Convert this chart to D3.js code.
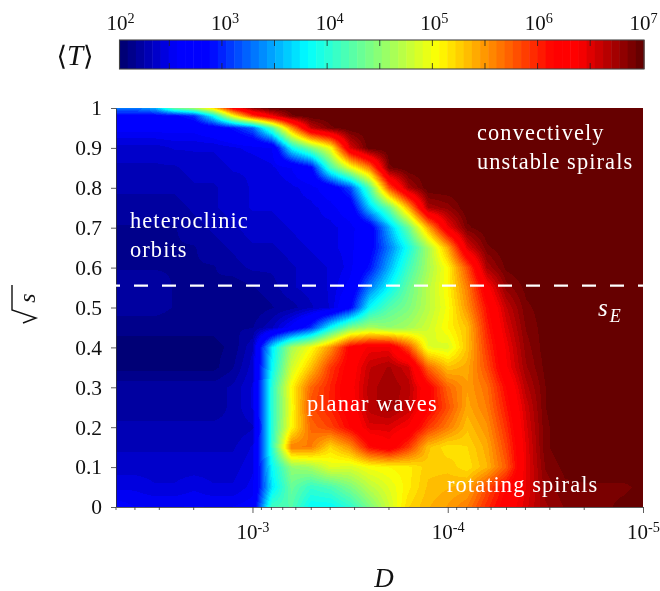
<!DOCTYPE html>
<html>
<head>
<meta charset="utf-8">
<script src="https://cdn.jsdelivr.net/npm/d3@7"></script>
<style>
  body { margin: 0; background: #fff; }
  #wrap { position: relative; width: 660px; height: 591px; }
  canvas, svg { position: absolute; left: 0; top: 0; }
  text { font-family: "Liberation Serif", serif; fill: #111; }
  .note { fill: #fff; font-size: 22.4px; letter-spacing: 1.1px; }
</style>
</head>
<body>
<div id="wrap"><canvas id="map" width="660" height="591"></canvas><svg id="chart" width="660" height="591"></svg></div>
<script>
// log10 of D along the horizontal axis
var logD = [-2.3, -2.4, -2.5, -2.6, -2.7, -2.8, -2.9, -3.0, -3.1, -3.2, -3.3, -3.4, -3.5, -3.6,
            -3.7, -3.8, -3.9, -4.0, -4.1, -4.2, -4.3, -4.4, -4.5, -4.6, -4.7, -4.8, -4.9, -5.0];
var sqrtS = [1, 0.98, 0.95, 0.9, 0.85, 0.8, 0.75, 0.7, 0.65, 0.6, 0.55, 0.5, 0.45,
             0.4, 0.35, 0.3, 0.25, 0.2, 0.15, 0.1, 0.05, 0];
// log10 <T>, one row per sqrtS value
var logT = [
  [3.3,3.3,3.5,4.3,4.6,5.2,6.2,6.8,7,7,7,7,7,7,7,7,7,7,7,7,7,7,7,7,7,7,7,7],
  [2.8,2.8,2.8,2.8,3.0,3.8,5.0,5.9,6.4,6.9,7,7,7,7,7,7,7,7,7,7,7,7,7,7,7,7,7,7],
  [2.6,2.6,2.6,2.6,2.6,2.7,2.9,3.2,4.2,5.5,6.6,6.9,7,7,7,7,7,7,7,7,7,7,7,7,7,7,7,7],
  [2.35,2.35,2.35,2.4,2.4,2.4,2.45,2.5,2.55,3.8,4.4,5.0,6.5,7,7,7,7,7,7,7,7,7,7,7,7,7,7,7],
  [2.3,2.3,2.3,2.3,2.35,2.35,2.4,2.4,2.45,2.55,2.8,4.1,4.9,5.6,6.9,7,7,7,7,7,7,7,7,7,7,7,7,7],
  [2.25,2.25,2.25,2.25,2.3,2.3,2.35,2.4,2.4,2.45,2.5,2.65,3.1,4.2,5.8,6.7,7,7,7,7,7,7,7,7,7,7,7,7],
  [2.2,2.2,2.2,2.2,2.25,2.3,2.35,2.4,2.4,2.45,2.45,2.5,2.65,3.6,4.3,5.4,6.7,6.8,7,7,7,7,7,7,7,7,7,7],
  [2.15,2.15,2.15,2.15,2.2,2.25,2.3,2.35,2.35,2.4,2.45,2.45,2.5,2.7,3.5,4.3,5.4,6.4,6.9,7,7,7,7,7,7,7,7,7],
  [2.15,2.15,2.15,2.15,2.15,2.2,2.25,2.3,2.3,2.35,2.4,2.45,2.5,2.75,3.3,3.9,4.6,5.4,6.5,6.9,7,7,7,7,7,7,7,7],
  [2.15,2.15,2.15,2.15,2.15,2.15,2.2,2.25,2.25,2.3,2.35,2.4,2.5,2.9,3.5,4.1,4.6,5.05,5.8,6.7,6.95,7,7,7,7,7,7,7],
  [2.2,2.2,2.2,2.15,2.15,2.15,2.1,2.15,2.2,2.3,2.35,2.4,2.6,3.3,3.8,4.3,4.7,5.05,5.6,6.3,6.8,6.95,7,7,7,7,7,7],
  [2.2,2.2,2.2,2.15,2.15,2.1,2.1,2.1,2.15,2.2,2.3,2.4,2.8,3.8,4.2,4.4,4.7,5.0,5.5,6.1,6.6,6.9,6.97,7,7,7,7,7],
  [2.1,2.1,2.1,2.1,2.1,2.1,2.15,2.15,2.3,2.6,3.0,3.8,4.4,4.6,4.5,4.6,4.8,5.05,5.3,6.0,6.5,6.85,6.97,7,7,7,7,7],
  [2.05,2.05,2.05,2.05,2.05,2.05,2.1,2.3,3.7,4.6,5.0,5.5,6.2,6.4,6.4,5.8,4.9,4.85,5.3,5.9,6.4,6.8,6.97,7,7,7,7,7],
  [2.05,2.05,2.05,2.05,2.05,2.05,2.15,2.35,3.8,4.8,5.3,5.9,6.25,6.6,6.7,6.55,5.7,5.3,5.4,5.8,6.35,6.75,6.95,7,7,7,7,7],
  [2.2,2.2,2.2,2.2,2.2,2.2,2.25,2.4,4.0,5.05,5.7,6.0,6.3,6.65,6.75,6.65,6.2,5.7,5.45,5.65,6.15,6.65,6.92,7,7,7,7,7],
  [2.2,2.2,2.2,2.2,2.2,2.2,2.25,2.4,4.0,5.0,5.8,6.0,6.25,6.65,6.75,6.6,6.2,5.8,5.4,5.6,6.05,6.55,6.92,7,7,7,7,7],
  [2.25,2.25,2.25,2.25,2.25,2.25,2.25,2.3,4.0,5.05,5.7,5.85,6.15,6.5,6.5,6.35,5.9,5.6,5.3,5.5,5.95,6.5,6.9,7,7,7,7,7],
  [2.3,2.3,2.3,2.3,2.3,2.3,2.3,2.4,4.0,5.6,5.6,5.2,5.5,6.1,6.3,5.9,5.3,5.15,5.2,5.4,5.85,6.45,6.9,7,7,7,7,7],
  [2.35,2.35,2.35,2.35,2.35,2.35,2.35,2.45,3.8,4.5,4.6,4.9,4.85,5.0,5.05,5.1,5.25,5.25,5.15,5.35,5.75,6.45,6.85,6.95,7,7,7,7],
  [2.45,2.45,2.4,2.4,2.45,2.4,2.4,2.5,3.7,4.3,4.05,4.15,4.4,4.7,4.9,5.1,5.3,5.35,5.4,5.8,6.15,6.45,6.8,6.9,6.9,6.9,6.9,6.95],
  [2.6,2.55,2.55,2.55,2.55,2.55,2.55,2.6,4.1,4.2,3.8,3.8,4.0,4.4,4.8,5.2,5.35,5.45,5.6,5.95,6.25,6.5,6.75,6.85,6.85,6.9,6.95,7]
];
var xTicks = [1e-3, 1e-4, 1e-5];
var xMinor = [5e-3, 4e-3, 3e-3, 2e-3, 9e-4, 8e-4, 7e-4, 6e-4, 5e-4, 4e-4, 3e-4, 2e-4,
              9e-5, 8e-5, 7e-5, 6e-5, 5e-5, 4e-5, 3e-5, 2e-5];
var yTicks = [0, 0.1, 0.2, 0.3, 0.4, 0.5, 0.6, 0.7, 0.8, 0.9, 1];
var barLabels = [1e2, 1e3, 1e4, 1e5, 1e6, 1e7];
var barTicks = [10**2.5, 1e3, 10**3.5, 1e4, 10**4.5, 1e5, 10**5.5, 1e6, 10**6.5];
var sE = 0.555;
var noteText = ['heteroclinic', 'orbits', 'convectively', 'unstable spirals', 'planar waves', 'rotating spirals'];
// colour map stops
var mapStops = [0, 0.11, 0.17, 0.358, 0.607, 0.826, 0.874, 1];
var mapColors = ['#00006b', '#0000ff', '#0000ff', '#00ffff', '#ffff00', '#ff0000', '#ff0000', '#5c0000'];

var x = d3.scaleLog().domain([5e-3, 1e-5]).range([116, 643]);
var y = d3.scaleLinear().domain([0, 1]).range([507, 108]);
var barX = d3.scaleLog().domain([1e2, 1e7]).range([116.7, 642.8]);
var barLabelX = d3.scaleLog().domain([1e2, 1e7]).range([120, 643]);
var barLevel = d3.scaleLinear().domain([0, 64]).range([119.5, 644]);

var ramp = d3.scaleLinear().domain(mapStops).range(mapColors).clamp(true);
// 64 level map, same as the colour bar
function jet(t) {
  var k = Math.min(63, Math.floor(t * 64));
  return d3.rgb(ramp((k + 0.5) / 64));
}
var level = d3.scaleLinear().domain([2, 7]).range([0, 1]).clamp(true);

// fractional position of a value inside a descending list
function locate(list, v) {
  var i = 0;
  while (i < list.length - 2 && v < list[i + 1]) i++;
  return [i, Math.max(0, Math.min(1, (list[i] - v) / (list[i] - list[i + 1])))];
}

// the smooth shaded map
var ctx = document.getElementById('map').getContext('2d');
var x0 = Math.round(x.range()[0]), x1 = Math.round(x.range()[1]);
var y0 = Math.round(y.range()[1]), y1 = Math.round(y.range()[0]);
var img = ctx.createImageData(x1 - x0, y1 - y0);
for (var py = y0; py < y1; py++) {
  var r = locate(sqrtS, y.invert(py + 0.5));
  for (var px = x0; px < x1; px++) {
    var c = locate(logD, Math.log10(x.invert(px + 0.5)));
    var upper = logT[r[0]][c[0]] * (1 - c[1]) + logT[r[0]][c[0] + 1] * c[1];
    var lower = logT[r[0] + 1][c[0]] * (1 - c[1]) + logT[r[0] + 1][c[0] + 1] * c[1];
    var col = jet(level(upper * (1 - r[1]) + lower * r[1]));
    var o = ((py - y0) * (x1 - x0) + (px - x0)) * 4;
    img.data[o] = col.r; img.data[o + 1] = col.g; img.data[o + 2] = col.b; img.data[o + 3] = 255;
  }
}
ctx.putImageData(img, x0, y0);

var svg = d3.select('#chart');

function power(sel, size) {
  // rewrite 10^n tick labels with a raised exponent
  sel.each(function(d) {
    var e = Math.round(Math.log10(d));
    var t = d3.select(this).text('10').attr('font-size', size);
    t.append('tspan').attr('dy', -7).attr('font-size', size * 0.68).text(e);
  });
}

// x axis
var gx = svg.append('g').attr('transform', 'translate(0,507)')
  .call(d3.axisBottom(x).tickValues(xTicks).tickSize(6).tickSizeOuter(0).tickPadding(11));
gx.selectAll('text').call(power, 21);
gx.selectAll('.minor').data(xMinor).enter().append('line').attr('class', 'minor')
  .attr('x1', function(d) { return x(d); }).attr('x2', function(d) { return x(d); })
  .attr('y2', 3).attr('stroke', '#333').attr('stroke-width', 0.8);
gx.selectAll('path,.tick line').attr('stroke', '#333').attr('stroke-width', 0.8);

// y axis
var gy = svg.append('g').attr('transform', 'translate(116,0)')
  .call(d3.axisLeft(y).tickValues(yTicks).tickFormat(d3.format('')).tickSize(5).tickSizeOuter(0).tickPadding(9));
gy.selectAll('text').attr('font-size', 21.5);
gy.selectAll('path,.tick line').attr('stroke', '#333').attr('stroke-width', 0.8);

// axis titles
svg.append('text').attr('x', 384).attr('y', 587).attr('text-anchor', 'middle')
  .attr('font-size', 27).attr('font-style', 'italic').text('D');
svg.append('text').attr('transform', 'translate(35,298) rotate(-90)').attr('text-anchor', 'middle')
  .attr('font-size', 24).attr('font-style', 'italic').text('s');
svg.append('path').attr('d', d3.line()([[12, 285], [12, 310], [36, 318], [23, 323]]))
  .attr('fill', 'none').attr('stroke', '#111').attr('stroke-width', 1.4);

// the s_E line and the labels
svg.append('line').attr('x1', x.range()[0]).attr('x2', x.range()[1])
  .attr('y1', y(sE)).attr('y2', y(sE))
  .attr('stroke', '#fff').attr('stroke-width', 2.3).attr('stroke-dasharray', '14 14').attr('stroke-dashoffset', 10);
var notePos = [[130, 228], [130, 257], [477, 140], [477, 169], [307, 411], [447, 492]];
svg.selectAll('.note').data(noteText).enter().append('text').attr('class', 'note')
  .attr('x', function(d, i) { return notePos[i][0]; }).attr('y', function(d, i) { return notePos[i][1]; })
  .text(function(d) { return d; });
var se = svg.append('text').attr('class', 'note').attr('x', 598).attr('y', 316)
  .attr('font-style', 'italic').style('font-size', '25px').text('s');
se.append('tspan').attr('dy', 6).attr('dx', 1).style('font-size', '18px').text('E');

// colour bar
svg.selectAll('.lev').data(d3.range(64)).enter().append('rect').attr('class', 'lev')
  .attr('x', function(d) { return barLevel(d); })
  .attr('width', function(d) { return barLevel(d + 1) - barLevel(d) + 0.5; })
  .attr('y', 40).attr('height', 29)
  .attr('fill', function(d) { return jet((d + 0.5) / 64).formatRgb(); });
svg.append('rect').attr('x', 119.5).attr('y', 40).attr('width', 524.5).attr('height', 29)
  .attr('fill', 'none').attr('stroke', '#444').attr('stroke-width', 1.1);
var gb = svg.append('g').attr('transform', 'translate(0,40)')
  .call(d3.axisTop(barLabelX).tickValues(barLabels).tickSize(0).tickSizeOuter(0).tickPadding(10));
gb.select('.domain').remove();
gb.selectAll('text').call(power, 21);
barTicks.forEach(function(d) {
  [[40, 46], [63, 69]].forEach(function(p) {
    svg.append('line').attr('x1', barX(d)).attr('x2', barX(d)).attr('y1', p[0]).attr('y2', p[1])
      .attr('stroke', '#222').attr('stroke-width', 0.8);
  });
});
svg.append('text').attr('x', 75).attr('y', 65).attr('text-anchor', 'middle').attr('font-size', 29)
  .html('<tspan style="font-family:\'DejaVu Sans\';font-size:27px">⟨</tspan><tspan font-style="italic">T</tspan><tspan style="font-family:\'DejaVu Sans\';font-size:27px">⟩</tspan>');
</script>
</body>
</html>
